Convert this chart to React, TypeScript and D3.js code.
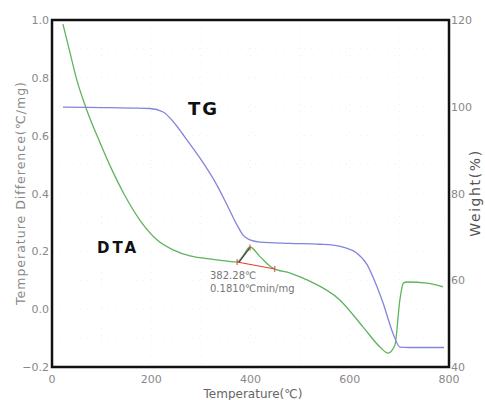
import React, { useEffect, useRef } from 'react';
import * as d3 from 'd3';

// TG curve (temperature in C, weight in %)
const tgTemp = [22, 100, 160, 197, 224, 244, 264, 298, 332, 353, 373, 385, 399, 419, 480, 540, 566, 590, 614, 635, 647, 667, 687, 701, 720, 790];
const tgWeight = [99.9, 99.8, 99.7, 99.6, 98.8, 96.6, 93.6, 88.2, 82.0, 77.3, 72.7, 70.4, 69.3, 68.8, 68.5, 68.3, 68.1, 67.5, 66.3, 63.6, 60.7, 54.8, 47.8, 44.6, 44.5, 44.5];

// DTA curve (temperature in C, difference in C/mg)
const dtaTemp = [22, 36, 50, 70, 97, 123, 143, 177, 212, 244, 278, 318, 350, 373, 385, 399, 420, 445, 480, 514, 580, 627, 661, 677, 691, 701, 708, 715, 756, 788];
const dtaValue = [0.986, 0.889, 0.793, 0.689, 0.575, 0.474, 0.405, 0.308, 0.239, 0.205, 0.184, 0.174, 0.167, 0.163, 0.185, 0.215, 0.18, 0.142, 0.125, 0.101, 0.032, -0.062, -0.131, -0.152, -0.124, 0.032, 0.09, 0.094, 0.09, 0.077];

const xTicks = [0, 200, 400, 600, 800];
const leftTicks = [-0.2, 0.0, 0.2, 0.4, 0.6, 0.8, 1.0];
const rightTicks = [40, 60, 80, 100, 120];

// onset tangent annotation
const baseLine = [[373, 0.163], [449, 0.139]];
const onsetLine = [[377, 0.163], [399, 0.213]];
const onsetLabel = ['382.28\u2103', '0.1810\u2103min/mg'];

const App = () => {
  const ref = useRef<SVGSVGElement>(null);

  useEffect(() => {
    const svg = d3.select(ref.current);
    svg.selectAll('*').remove();

    const margin = { top: 20, right: 36, bottom: 33, left: 52 };
    const width = 485;
    const height = 400;

    const x = d3.scaleLinear().domain([0, 800]).range([margin.left, width - margin.right]);
    const y = d3.scaleLinear().domain([-0.2, 1.0]).range([height - margin.bottom, margin.top]);
    const yR = d3.scaleLinear().domain([40, 120]).range([height - margin.bottom, margin.top]);

    const font = 'DejaVu Sans, Verdana, sans-serif';
    const grey = '#888';

    // faint grid
    const grid = svg.append('g').attr('stroke', '#efefef').attr('stroke-dasharray', '1,6');
    d3.range(100, 800, 100).forEach((t) => {
      grid.append('line').attr('x1', x(t)).attr('x2', x(t)).attr('y1', y(1.0)).attr('y2', y(-0.2));
    });
    d3.range(-0.1, 1.0, 0.1).forEach((v) => {
      grid.append('line').attr('x1', x(0)).attr('x2', x(800)).attr('y1', y(v)).attr('y2', y(v));
    });

    // curves
    const tgData = tgTemp.map((t, i) => [t, tgWeight[i]]);
    const dtaData = dtaTemp.map((t, i) => [t, dtaValue[i]]);

    svg
      .append('path')
      .datum(dtaData)
      .attr('fill', 'none')
      .attr('stroke', '#5fb35f')
      .attr('stroke-width', 1.3)
      .attr('d', d3.line<any>().curve(d3.curveMonotoneX).x((d) => x(d[0])).y((d) => y(d[1])));

    svg
      .append('path')
      .datum(tgData)
      .attr('fill', 'none')
      .attr('stroke', '#8484dc')
      .attr('stroke-width', 1.3)
      .attr('d', d3.line<any>().curve(d3.curveMonotoneX).x((d) => x(d[0])).y((d) => yR(d[1])));

    // tangent annotation
    const seg = d3.line<any>().x((d) => x(d[0])).y((d) => y(d[1]));
    svg.append('path').datum(baseLine).attr('stroke', '#e04030').attr('stroke-width', 1.2).attr('fill', 'none').attr('d', seg);
    svg.append('path').datum(onsetLine).attr('stroke', '#404040').attr('stroke-width', 1.2).attr('fill', 'none').attr('d', seg);
    [baseLine[0], baseLine[1], onsetLine[1]].forEach((p) => {
      svg
        .append('line')
        .attr('x1', x(p[0]))
        .attr('x2', x(p[0]))
        .attr('y1', y(p[1]) - 3)
        .attr('y2', y(p[1]) + 3)
        .attr('stroke', '#e04030')
        .attr('stroke-width', 1);
    });
    onsetLabel.forEach((s, i) => {
      svg
        .append('text')
        .attr('x', 210)
        .attr('y', y(0.163) + 17 + i * 13)
        .attr('font-family', font)
        .attr('font-size', 10)
        .attr('fill', '#777')
        .text(s);
    });

    // frame
    svg
      .append('rect')
      .attr('x', x(0))
      .attr('y', y(1.0))
      .attr('width', x(800) - x(0))
      .attr('height', y(-0.2) - y(1.0))
      .attr('fill', 'none')
      .attr('stroke', '#111')
      .attr('stroke-width', 2.5);

    // tick labels
    xTicks.forEach((t) => {
      svg
        .append('text')
        .attr('x', x(t))
        .attr('y', y(-0.2) + 16)
        .attr('text-anchor', 'middle')
        .attr('font-family', font)
        .attr('font-size', 11)
        .attr('fill', grey)
        .text(t);
    });
    leftTicks.forEach((v) => {
      svg
        .append('text')
        .attr('x', x(0) - 3)
        .attr('y', y(v) + 4)
        .attr('text-anchor', 'end')
        .attr('font-family', font)
        .attr('font-size', 11)
        .attr('fill', grey)
        .text(d3.format('.1f')(v).replace('-', '\u2212'));
    });
    rightTicks.forEach((v) => {
      svg
        .append('text')
        .attr('x', x(800) + 2)
        .attr('y', yR(v) + 4)
        .attr('font-family', font)
        .attr('font-size', 11)
        .attr('fill', grey)
        .text(v);
    });

    // axis titles
    svg
      .append('text')
      .attr('x', 253)
      .attr('y', 398)
      .attr('text-anchor', 'middle')
      .attr('font-family', font)
      .attr('font-size', 12)
      .attr('fill', '#666')
      .text('Temperature(\u2103)');
    svg
      .append('text')
      .attr('transform', 'translate(25,193) rotate(-90)')
      .attr('text-anchor', 'middle')
      .attr('font-family', font)
      .attr('font-size', 12.5)
      .attr('letter-spacing', 1)
      .attr('fill', '#888')
      .text('Temperature Difference(\u2103/mg)');
    svg
      .append('text')
      .attr('transform', 'translate(480,193) rotate(-90)')
      .attr('text-anchor', 'middle')
      .attr('font-family', font)
      .attr('font-size', 14)
      .attr('letter-spacing', 1.6)
      .attr('fill', '#555')
      .text('Weight(%)');

    // curve names
    svg
      .append('text')
      .attr('x', 188)
      .attr('y', 115)
      .attr('font-family', font)
      .attr('font-weight', 'bold')
      .attr('font-size', 18)
      .attr('letter-spacing', 2)
      .attr('fill', '#111')
      .text('TG');
    svg
      .append('text')
      .attr('x', 97)
      .attr('y', 253)
      .attr('font-family', font)
      .attr('font-weight', 'bold')
      .attr('font-size', 15)
      .attr('letter-spacing', 3)
      .attr('fill', '#111')
      .text('DTA');
  }, []);

  return (
    <svg
      ref={ref}
      width={485}
      height={400}
      style={{ position: 'absolute', left: 0, top: 0, background: '#fff' }}
    />
  );
};

export default App;
